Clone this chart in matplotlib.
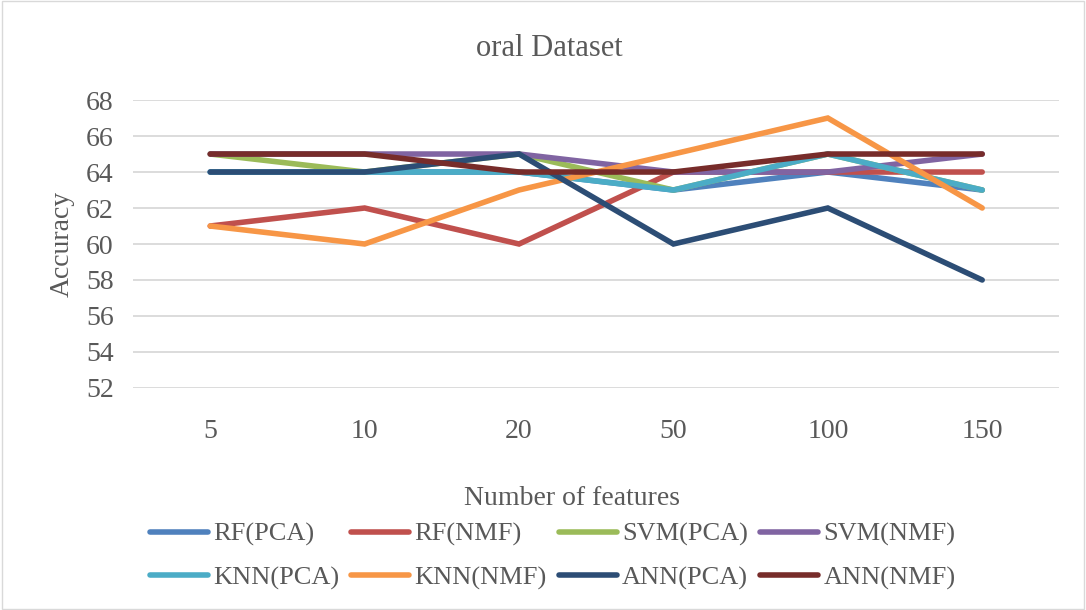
import numpy as np
import matplotlib.pyplot as plt
from matplotlib.patches import Rectangle

plt.rcParams['font.family'] = ['Liberation Serif', 'DejaVu Serif']

features = ['5', '10', '20', '50', '100', '150']
series_names = ['RF(PCA)', 'RF(NMF)', 'SVM(PCA)', 'SVM(NMF)',
                'KNN(PCA)', 'KNN(NMF)', 'ANN(PCA)', 'ANN(NMF)']
rf_pca = [64, 64, 64, 63, 64, 63]
rf_nmf = [61, 62, 60, 64, 64, 64]
svm_pca = [65, 64, 65, 63, 65, 63]
svm_nmf = [65, 65, 65, 64, 64, 65]
knn_pca = [64, 64, 64, 63, 65, 63]
knn_nmf = [61, 60, 63, 65, 67, 62]
ann_pca = [64, 64, 65, 60, 62, 58]
ann_nmf = [65, 65, 64, 64, 65, 65]
values = [rf_pca, rf_nmf, svm_pca, svm_nmf, knn_pca, knn_nmf, ann_pca, ann_nmf]
colors = ['#4F81BD', '#C0504D', '#9BBB59', '#8064A2',
          '#4BACC6', '#F79646', '#2C4D75', '#772C2A']

txt = '#595959'
fig = plt.figure(figsize=(10.86, 6.10), dpi=100)
ax = fig.add_axes([0.1225, 0.364, 0.853, 0.472])

x = np.arange(len(features))
lines = []
for name, v, c in zip(series_names, values, colors):
    ln, = ax.plot(x, v, color=c, lw=4, label=name, solid_capstyle='round',
                  solid_joinstyle='miter')
    lines.append(ln)

ax.set_xlim(-0.5, len(features) - 0.5)
ax.set_ylim(52, 68)
ax.set_yticks(np.arange(52, 69, 2))
ax.set_xticks(x)
ax.set_xticklabels(features)
ax.yaxis.grid(True, color='#d9d9d9', lw=1.3)
ax.set_axisbelow(True)
for s in ax.spines.values():
    s.set_visible(False)
ax.tick_params(length=0, labelsize=20, colors=txt, pad=14)
ax.tick_params(axis='x', pad=22)
ax.set_ylabel('Accuracy', fontsize=20, color=txt, labelpad=8)

fig.text(0.506, 0.92, 'oral Dataset', ha='center', va='center',
         fontsize=22, color=txt)
fig.text(0.527, 0.183, 'Number of features', ha='center', va='center',
         fontsize=20, color=txt)

# row-major order in the legend
order = [0, 4, 1, 5, 2, 6, 3, 7]
leg = fig.legend([lines[i] for i in order], [series_names[i] for i in order],
                 loc='center', bbox_to_anchor=(0.509, 0.088), ncol=4,
                 frameon=False, fontsize=19, handlelength=2.2,
                 handletextpad=0.2, columnspacing=0.45, labelspacing=0.75)
for t in leg.get_texts():
    t.set_color(txt)

fig.patches.append(Rectangle((0.002, 0.002), 0.996, 0.996, transform=fig.transFigure,
                             fill=False, edgecolor='#d9d9d9', lw=1))

fig.savefig('out.png', dpi=100)
